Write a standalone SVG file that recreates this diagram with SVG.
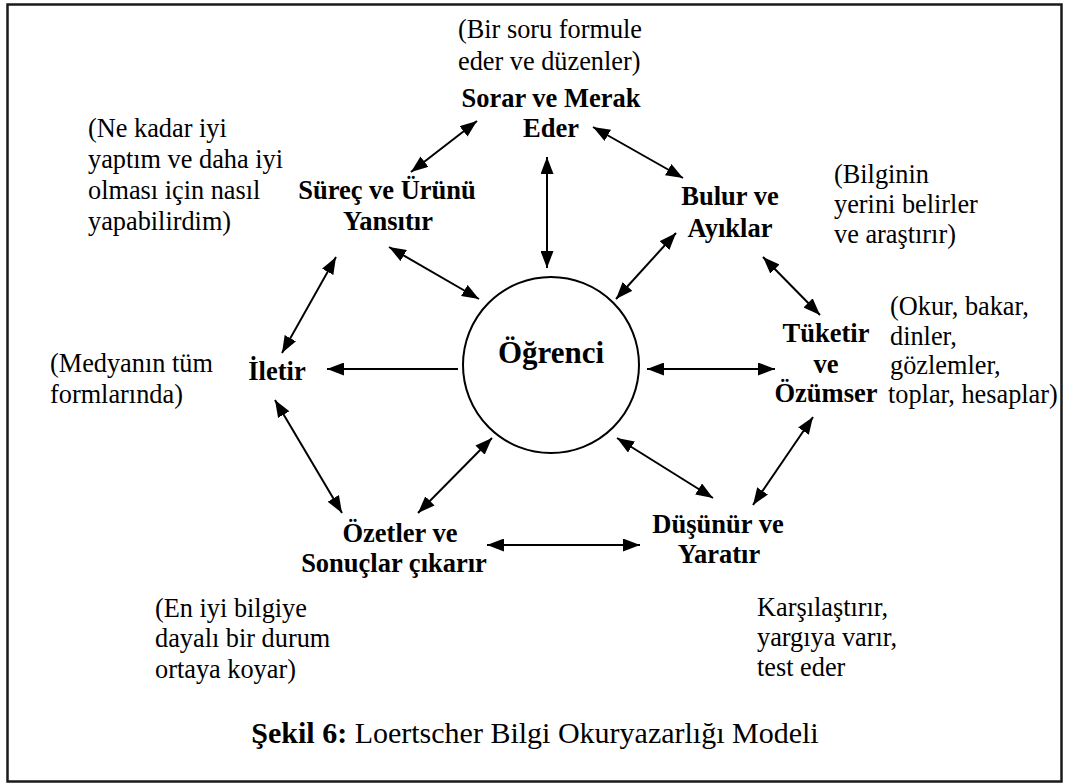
<svg xmlns="http://www.w3.org/2000/svg" width="1068" height="783" viewBox="0 0 1068 783">
<style>
text{font-family:'Liberation Serif','Times New Roman',Times,serif;fill:#000}
.b{font-weight:bold;font-size:26.5px;text-anchor:middle}
.n{font-size:26.3px}
.c{stroke:#000;stroke-width:2;fill:none}
</style>
<defs>
<marker id="ah" viewBox="0 0 17 13" refX="17" refY="6.5" markerWidth="17" markerHeight="13" markerUnits="userSpaceOnUse" orient="auto-start-reverse">
<path d="M0,0 L17,6.5 L0,13 z" fill="#000"/>
</marker>
</defs>
<rect x="7.5" y="4.5" width="1054" height="777" fill="#fff" stroke="#1a1a1a" stroke-width="2.5"/>
<g id="connectors" class="c">
<line x1="477" y1="121" x2="411" y2="172" marker-start="url(#ah)" marker-end="url(#ah)"/>
<line x1="593" y1="127" x2="683" y2="178" marker-start="url(#ah)" marker-end="url(#ah)"/>
<line x1="547" y1="157" x2="547" y2="268" marker-start="url(#ah)" marker-end="url(#ah)"/>
<line x1="676" y1="233" x2="616" y2="299" marker-start="url(#ah)" marker-end="url(#ah)"/>
<line x1="763" y1="257" x2="820" y2="315" marker-start="url(#ah)" marker-end="url(#ah)"/>
<line x1="647" y1="369" x2="775" y2="369" marker-start="url(#ah)" marker-end="url(#ah)"/>
<line x1="813" y1="417" x2="753" y2="505" marker-start="url(#ah)" marker-end="url(#ah)"/>
<line x1="617" y1="438" x2="713" y2="498" marker-start="url(#ah)" marker-end="url(#ah)"/>
<line x1="487" y1="545" x2="640" y2="545" marker-start="url(#ah)" marker-end="url(#ah)"/>
<line x1="492" y1="438" x2="418" y2="513" marker-start="url(#ah)" marker-end="url(#ah)"/>
<line x1="275" y1="400" x2="342" y2="513" marker-start="url(#ah)" marker-end="url(#ah)"/>
<line x1="458" y1="369" x2="327" y2="369" marker-end="url(#ah)"/>
<line x1="336" y1="257" x2="282" y2="353" marker-start="url(#ah)" marker-end="url(#ah)"/>
<line x1="389" y1="247" x2="479" y2="299" marker-start="url(#ah)" marker-end="url(#ah)"/>
</g>
<g id="ogrenci">
<circle cx="551" cy="365" r="88" fill="none" stroke="#000" stroke-width="2"/>
<text x="551" y="363" font-size="31" font-weight="bold" text-anchor="middle">Öğrenci</text>
</g>
<g id="sorar">
<text class="n" x="458" y="38">(Bir soru formule</text>
<text class="n" x="458" y="70">eder ve düzenler)</text>
<text class="b" x="551" y="107">Sorar ve Merak</text>
<text class="b" x="551" y="137">Eder</text>
</g>
<g id="surec">
<text class="n" x="88" y="137">(Ne kadar iyi</text>
<text class="n" x="88" y="168">yaptım ve daha iyi</text>
<text class="n" x="88" y="199">olması için nasıl</text>
<text class="n" x="88" y="230">yapabilirdim)</text>
<text class="b" x="387" y="199">Süreç ve Ürünü</text>
<text class="b" x="388" y="230">Yansıtır</text>
</g>
<g id="bulur">
<text class="b" x="730" y="205">Bulur ve</text>
<text class="b" x="730" y="237">Ayıklar</text>
<text class="n" x="834" y="183">(Bilginin</text>
<text class="n" x="834" y="213">yerini belirler</text>
<text class="n" x="834" y="243">ve araştırır)</text>
</g>
<g id="tuketir">
<text class="b" x="826" y="342">Tüketir</text>
<text class="b" x="826" y="373">ve</text>
<text class="b" x="826" y="402">Özümser</text>
<text class="n" x="890" y="315">(Okur, bakar,</text>
<text class="n" x="890" y="345">dinler,</text>
<text class="n" x="890" y="374">gözlemler,</text>
<text class="n" x="888" y="403">toplar, hesaplar)</text>
</g>
<g id="iletir">
<text class="n" x="50" y="372">(Medyanın tüm</text>
<text class="n" x="50" y="403">formlarında)</text>
<text class="b" x="277" y="380">İletir</text>
</g>
<g id="ozetler">
<text class="b" x="400" y="542">Özetler ve</text>
<text class="b" x="394" y="572">Sonuçlar çıkarır</text>
<text class="n" x="155" y="617">(En iyi bilgiye</text>
<text class="n" x="155" y="647">dayalı bir durum</text>
<text class="n" x="155" y="678">ortaya koyar)</text>
</g>
<g id="dusunur">
<text class="b" x="718" y="533">Düşünür ve</text>
<text class="b" x="719" y="563">Yaratır</text>
<text class="n" x="757" y="616">Karşılaştırır,</text>
<text class="n" x="757" y="646">yargıya varır,</text>
<text class="n" x="757" y="676">test eder</text>
</g>
<g id="caption">
<text x="535" y="743" font-size="30" text-anchor="middle"><tspan font-weight="bold">Şekil 6:</tspan> Loertscher Bilgi Okuryazarlığı Modeli</text>
</g>
</svg>
